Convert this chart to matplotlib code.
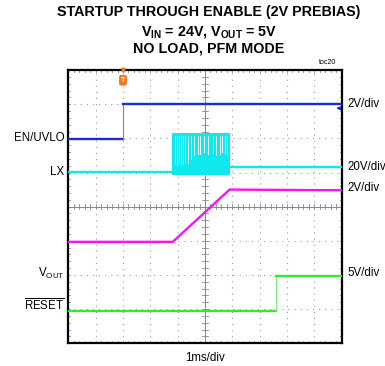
import matplotlib
matplotlib.use("Agg")
import matplotlib.pyplot as plt
import numpy as np

plt.rcParams['font.family'] = ['Liberation Sans', 'DejaVu Sans']
plt.rcParams['mathtext.fontset'] = 'custom'
plt.rcParams['mathtext.rm'] = 'Liberation Sans'
plt.rcParams['mathtext.it'] = 'Liberation Sans'
plt.rcParams['mathtext.bf'] = 'Liberation Sans:bold'

# ---- data (time in divisions, level in divisions from top of screen) ----
en_t = [0.0, 2.0, 2.0, 10.0]
en_v = [2.02, 2.02, 1.0, 1.0]

lx_pre_t = [0.0, 3.8]
lx_pre_v = [2.98, 2.98]
lx_burst_start = 3.8
lx_burst_end = 5.92
lx_burst_top = 1.85
lx_burst_bottom = 3.06
lx_gap_t = [3.90, 3.97, 4.05, 4.12, 4.20, 4.27, 4.38, 4.49, 4.60, 4.74, 4.82,
            4.95, 5.10, 5.29, 5.40, 5.54, 5.63, 5.72, 5.82]
lx_gap_bottom = [2.72, 2.78, 2.70, 2.74, 2.76, 2.70, 2.72, 2.60, 2.50, 2.45, 2.45,
                 2.40, 2.45, 2.42, 2.48, 2.45, 2.40, 2.42, 2.50]
lx_post_t = [5.92, 10.0]
lx_post_v = [2.85, 2.85]

vout_t = [0.0, 3.82, 5.9, 10.0]
vout_v = [5.03, 5.03, 3.5, 3.52]

reset_t = [0.0, 7.58, 7.58, 10.0]
reset_v = [7.04, 7.04, 6.04, 6.04]

left_labels = ['EN/UVLO', 'LX', r'V$_{\mathrm{OUT}}$', r'$\overline{\mathrm{RESET}}$']
left_label_y = [2.0, 2.98, 5.95, 6.88]
right_labels = ['2V/div', '20V/div', '2V/div', '5V/div']
right_label_y = [1.0, 2.85, 3.45, 5.95]

BLUE = '#1a2bd6'
CYAN = '#10e8f0'
MAGENTA = '#ff10f0'
GREEN = '#33e833'

fig = plt.figure(figsize=(3.85, 3.66), dpi=100)
ax = fig.add_axes([0.1774, 0.062, 0.7101, 0.7467])
ax.set_xlim(0, 10)
ax.set_ylim(8, 0)
ax.set_xticks([]); ax.set_yticks([])
for s in ax.spines.values():
    s.set_linewidth(1.6)
    s.set_color('black')

# grid
for i in range(1, 10):
    ax.axvline(i, color='#999999', lw=0.8, ls=(0, (1, 4.5)), zorder=1)
for j in range(1, 8):
    ax.axhline(j, color='#999999', lw=0.8, ls=(0, (1, 4.5)), zorder=1)
ax.axvline(5, color='#888888', lw=0.7, zorder=1)
ax.axhline(4, color='#888888', lw=0.7, zorder=1)
# minor ticks on centre lines and borders
mx = np.arange(0.2, 10, 0.2)
my = np.arange(0.2, 8, 0.2)
for x in mx:
    ax.plot([x, x], [3.93, 4.07], color='#888888', lw=0.6, zorder=1)
    ax.plot([x, x], [0, 0.07], color='#888888', lw=0.6, zorder=1)
    ax.plot([x, x], [8, 7.93], color='#888888', lw=0.6, zorder=1)
for y in my:
    ax.plot([4.9, 5.1], [y, y], color='#888888', lw=0.6, zorder=1)
    ax.plot([0, 0.08], [y, y], color='#888888', lw=0.6, zorder=1)
    ax.plot([10, 9.92], [y, y], color='#888888', lw=0.6, zorder=1)

# traces
ax.plot(en_t[:2], en_v[:2], color=BLUE, lw=1.7, zorder=3)
ax.plot(en_t[1:3], en_v[1:3], color='#6f7ee8', lw=0.8, zorder=3)
ax.plot(en_t[2:], en_v[2:], color=BLUE, lw=1.7, zorder=3)
ax.plot(lx_pre_t, lx_pre_v, color=CYAN, lw=1.7, zorder=3)
ax.plot(lx_post_t, lx_post_v, color=CYAN, lw=1.7, zorder=3)
ax.fill_between([lx_burst_start, lx_burst_end], lx_burst_top, lx_burst_bottom,
                color=CYAN, lw=0, zorder=3)
for t, b in zip(lx_gap_t, lx_gap_bottom):
    ax.plot([t, t], [lx_burst_top + 0.08, b], color='#e8fdfe', lw=0.7, zorder=3.5)
ax.plot(vout_t, vout_v, color=MAGENTA, lw=1.7, zorder=3)
ax.plot(reset_t[:2], reset_v[:2], color=GREEN, lw=1.7, zorder=3)
ax.plot(reset_t[1:3], reset_v[1:3], color='#7ef07e', lw=0.8, zorder=3)
ax.plot(reset_t[2:], reset_v[2:], color=GREEN, lw=1.7, zorder=3)

# trigger marker
ax.text(2.0, 0.3, 'T', color='white', fontsize=5, fontweight='bold', ha='center', va='center',
        bbox=dict(boxstyle='round,pad=0.15', fc='#f07818', ec='#f07818'), zorder=5, clip_on=False)
ax.plot([2.0], [0.0], marker='v', color='#f07818', ms=3, zorder=5, clip_on=False)
# right-side reference arrow
ax.annotate('', xy=(9.8, 1.12), xytext=(10.0, 1.12),
            arrowprops=dict(arrowstyle='-|>', color=BLUE, lw=0.9, mutation_scale=5), zorder=5)

for lab, y in zip(left_labels, left_label_y):
    ax.text(-0.15, y, lab, ha='right', va='center', fontsize=8.3, clip_on=False)
for lab, y in zip(right_labels, right_label_y):
    ax.text(10.2, y, lab, ha='left', va='center', fontsize=8.3, clip_on=False)

fig.text(0.533, 0.022, '1ms/div', ha='center', va='center', fontsize=8.3)
fig.text(0.542, 0.967, 'STARTUP THROUGH ENABLE (2V PREBIAS)', ha='center', va='center',
         fontsize=10.3, fontweight='bold')
fig.text(0.542, 0.913, r'V$_{\mathbf{IN}}$ = 24V, V$_{\mathbf{OUT}}$ = 5V', ha='center', va='center',
         fontsize=10.3, fontweight='bold')
fig.text(0.542, 0.867, 'NO LOAD, PFM MODE', ha='center', va='center',
         fontsize=10.3, fontweight='bold')
fig.text(0.852, 0.830, 'toc20', ha='center', va='center', fontsize=5)

fig.savefig('out.png', dpi=100)
